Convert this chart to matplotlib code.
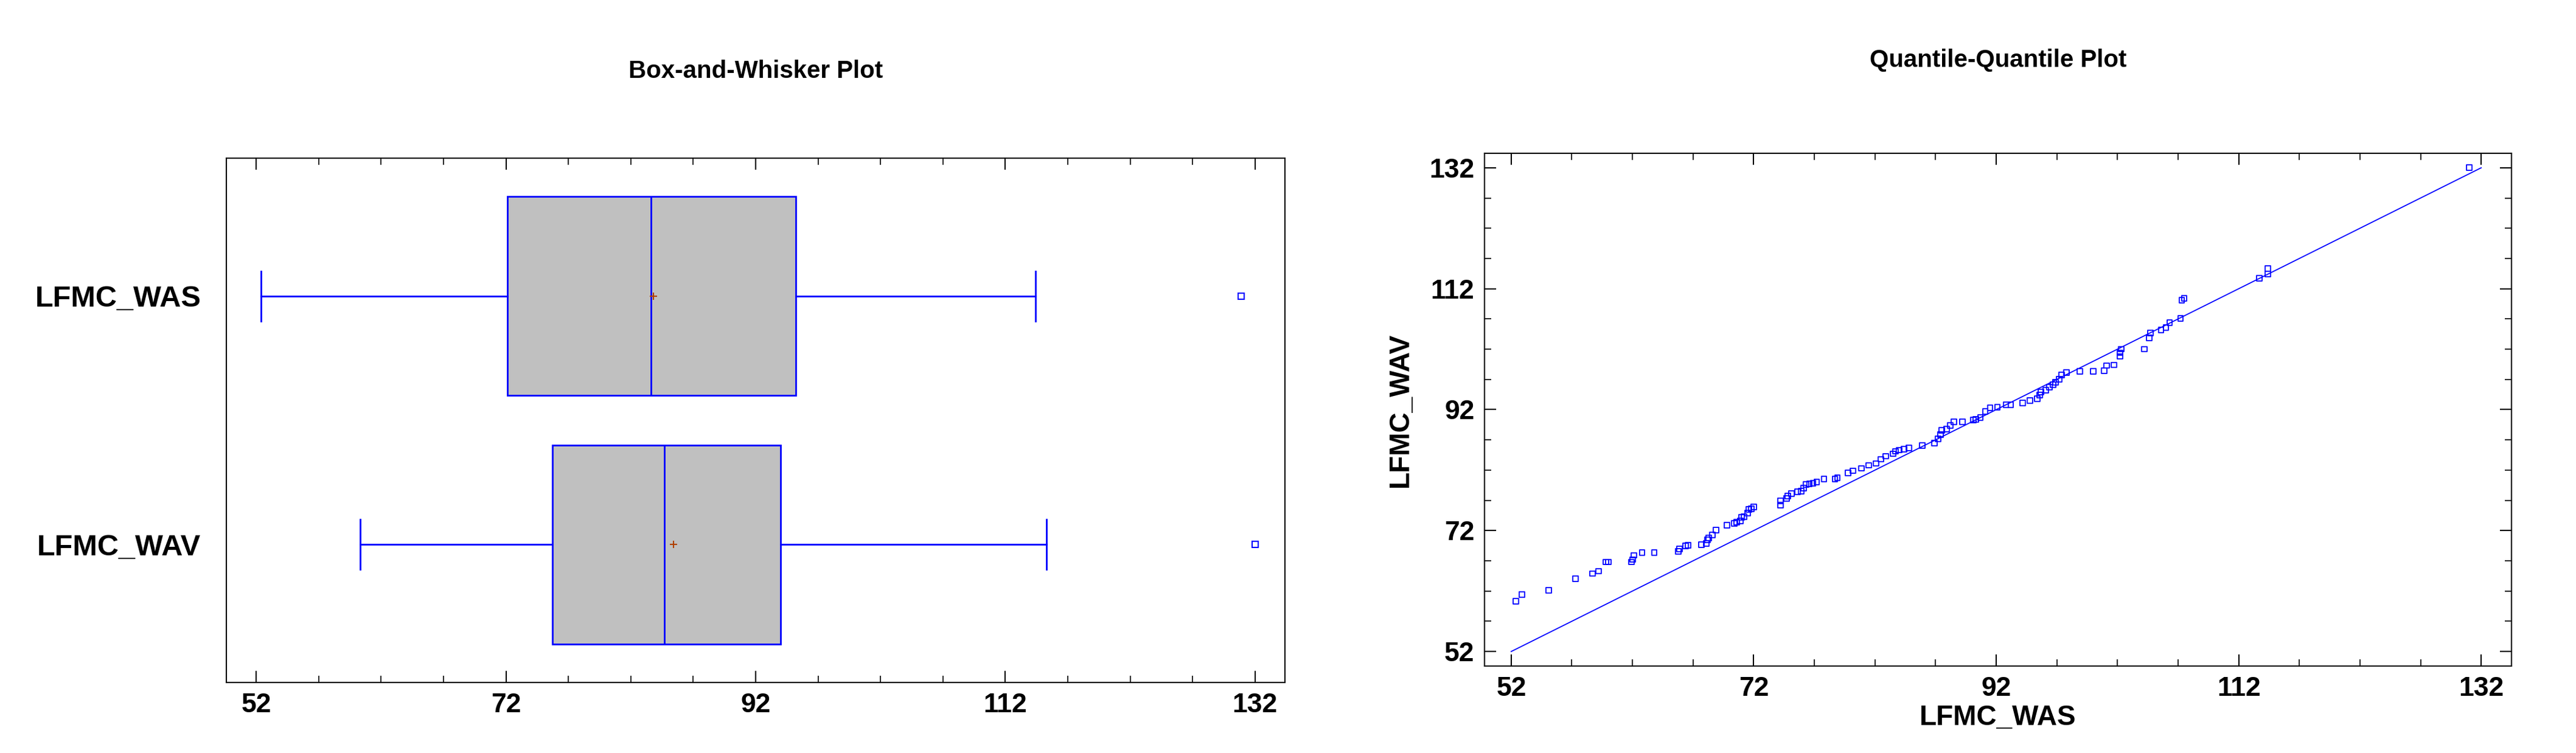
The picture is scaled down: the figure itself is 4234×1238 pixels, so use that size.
import matplotlib
matplotlib.use("Agg")
import matplotlib.pyplot as plt
from matplotlib.ticker import MultipleLocator, FixedLocator

plt.rcParams['font.family'] = ['Liberation Sans', 'DejaVu Sans']
plt.rcParams['font.weight'] = 'bold'

categories = ["LFMC_WAV", "LFMC_WAS"]
whislo = [60.3, 52.4]
q1 = [75.7, 72.1]
med = [84.7, 83.6]
q3 = [94.0, 95.2]
whishi = [115.3, 114.4]
means = [85.4, 83.8]
outliers = [[132.0], [130.9]]

ticks = [52, 72, 92, 112, 132]

was_q = [52.4, 52.9, 55.1, 57.3, 58.7, 59.2, 59.8, 60.0, 61.9, 62.0, 62.1, 62.8, 63.8, 65.8, 65.9,
         66.4, 66.6, 67.7, 68.1, 68.2, 68.3, 68.6, 68.9, 69.8, 70.4, 70.6, 70.9, 71.0, 71.2, 71.5,
         71.6, 71.8, 72.0, 74.2, 74.2, 74.7, 74.8, 75.1, 75.6, 75.9, 76.1, 76.3, 76.6, 76.9, 77.2,
         77.8, 78.7, 78.9, 79.8, 80.2, 80.9, 81.5, 82.1, 82.5, 82.9, 83.5, 83.7, 84.0, 84.4, 84.8,
         85.9, 86.9, 87.2, 87.4, 87.5, 87.9, 88.2, 88.5, 89.2, 90.1, 90.3, 90.7, 91.1, 91.5, 92.1,
         92.8, 93.2, 94.2, 94.8, 95.4, 95.6, 95.7, 96.1, 96.4, 96.7, 96.9, 97.2, 97.4, 97.8, 98.9,
         100.0, 100.9, 101.1, 101.7, 102.2, 102.2, 102.3, 104.2, 104.6, 104.7, 105.6, 106.0, 106.3,
         107.2, 107.3, 107.5, 113.7, 114.4, 114.4, 131.0]
wav_q = [60.3, 61.4, 62.1, 64.0, 64.9, 65.3, 66.8, 66.8, 66.8, 67.2, 67.9, 68.4, 68.4, 68.6, 69.0,
         69.5, 69.6, 69.7, 69.9, 70.5, 70.8, 71.3, 72.1, 72.9, 73.2, 73.4, 73.6, 74.2, 74.3, 74.9,
         75.5, 75.6, 75.9, 76.2, 76.9, 77.3, 77.7, 78.1, 78.4, 78.5, 79.0, 79.6, 79.7, 79.8, 80.0,
         80.5, 80.5, 80.7, 81.5, 81.9, 82.3, 82.8, 83.1, 83.8, 84.3, 84.7, 85.1, 85.3, 85.5, 85.7,
         86.1, 86.5, 87.2, 87.9, 88.6, 88.8, 89.4, 90.0, 90.0, 90.3, 90.4, 90.7, 91.7, 92.3, 92.4,
         92.8, 92.8, 93.1, 93.5, 93.8, 94.4, 94.9, 95.2, 95.7, 96.1, 96.5, 97.0, 97.7, 98.1, 98.3,
         98.3, 98.4, 99.3, 99.4, 100.8, 101.4, 102.0, 102.0, 103.9, 104.7, 105.2, 105.6, 106.4,
         107.1, 110.1, 110.4, 113.7, 114.4, 115.3, 132.0]
n = min(len(was_q), len(wav_q))
was_q, wav_q = was_q[:n], wav_q[:n]

W, H = 4234, 1238
fig = plt.figure(figsize=(W / 100, H / 100), dpi=100)
TS = 32

def style(ax):
    for s in ax.spines.values():
        s.set_linewidth(1.5)
    ax.tick_params(direction='in', length=14, width=1.5, labelsize=TS, top=True, right=True, pad=12)
    ax.tick_params(which='minor', direction='in', length=8, width=1.2, top=True, right=True)

# Box plot
ax1 = fig.add_axes([372 / W, 1 - 1122 / H, (2112 - 372) / W, (1122 - 260) / H])
stats = [dict(label=c, whislo=whislo[i], q1=q1[i], med=med[i], q3=q3[i], whishi=whishi[i],
              mean=means[i], fliers=outliers[i]) for i, c in enumerate(categories)]
ax1.bxp(stats, positions=[1, 2], orientation='horizontal', widths=0.8, patch_artist=True,
        showmeans=True, capwidths=0.2,
        boxprops=dict(facecolor='#c0c0c0', edgecolor='blue', linewidth=2),
        medianprops=dict(color='blue', linewidth=2),
        whiskerprops=dict(color='blue', linewidth=2),
        capprops=dict(color='blue', linewidth=2),
        meanprops=dict(marker='+', markeredgecolor='#b04000', markersize=9, markeredgewidth=1.5),
        flierprops=dict(marker='s', markerfacecolor='none', markeredgecolor='blue', markersize=7,
                        markeredgewidth=1.5))
ax1.set_xlim(49.6, 134.4)
ax1.set_ylim(0.445, 2.555)
ax1.xaxis.set_major_locator(FixedLocator(ticks))
ax1.xaxis.set_minor_locator(MultipleLocator(5, offset=2))
style(ax1)
ax1.tick_params(axis='y', length=0, pad=30, labelsize=TS + 3, right=False)
ax1.set_yticklabels(categories, fontweight='bold')
ax1.set_title("Box-and-Whisker Plot", fontsize=TS - 3, fontweight='bold', pad=95)

# QQ plot
ax2 = fig.add_axes([2440 / W, 1 - 1095 / H, (4128 - 2440) / W, (1095 - 252) / H])
ax2.scatter(was_q, wav_q, marker='s', facecolors='none', edgecolors='blue', s=40, linewidths=1.3, zorder=3)
ax2.plot([ticks[0], ticks[-1]], [ticks[0], ticks[-1]], color='blue', linewidth=1.3)
ax2.set_xlim(49.8, 134.5)
ax2.set_ylim(49.6, 134.4)
for a in (ax2.xaxis, ax2.yaxis):
    a.set_major_locator(FixedLocator(ticks))
    a.set_minor_locator(MultipleLocator(5, offset=2))
style(ax2)
ax2.set_xlabel("LFMC_WAS", fontsize=TS + 1, fontweight='bold', labelpad=4)
ax2.set_ylabel("LFMC_WAV", fontsize=TS + 1, fontweight='bold', labelpad=18)
ax2.set_title("Quantile-Quantile Plot", fontsize=TS - 3, fontweight='bold', pad=102)

for ax in (ax1, ax2):
    for lb in ax.get_xticklabels() + ax.get_yticklabels():
        lb.set_fontweight('bold')

fig.savefig("out.png", dpi=100, facecolor='white')
